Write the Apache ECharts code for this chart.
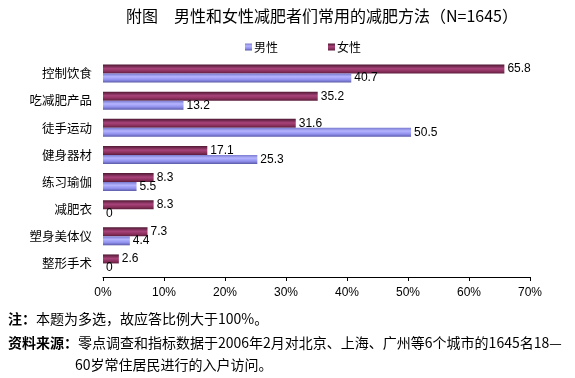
<!DOCTYPE html>
<html>
<head>
<meta charset="utf-8">
<script src="https://cdn.jsdelivr.net/npm/echarts@6/dist/echarts.min.js"></script>
<style>
html,body{margin:0;padding:0;background:#fff;}
#c{width:575px;height:378px;}
</style>
</head>
<body>
<div id="c"></div>
<script>
var categories = ['控制饮食', '吃减肥产品', '徒手运动', '健身器材', '练习瑜伽', '减肥衣', '塑身美体仪', '整形手术'];
var maleValues = [40.7, 13.2, 50.5, 25.3, 5.5, 0, 4.4, 0];
var femaleValues = [65.8, 35.2, 31.6, 17.1, 8.3, 8.3, 7.3, 2.6];
var xTicks = [0, 10, 20, 30, 40, 50, 60, 70];
var seriesNames = ['男性', '女性'];

var FONT = '"Liberation Sans", "Noto Sans CJK SC", sans-serif';
var CJK = '"Noto Sans CJK SC", "Liberation Sans", sans-serif';

function grad(stops) {
  return new echarts.graphic.LinearGradient(0, 0, 0, 1, stops.map(function (s) { return { offset: s[0], color: s[1] }; }));
}
var maleColor = grad([[0, '#7a7ad0'], [0.35, '#b4b4ff'], [0.7, '#9090ee'], [1, '#5a5aa8']]);
var femaleColor = grad([[0, '#4e1832'], [0.45, '#a8437a'], [0.75, '#8a2f5c'], [1, '#5c1d3c']]);

var chart = echarts.init(document.getElementById('c'), null, { renderer: 'canvas' });
var labelCfg = { show: true, position: 'right', distance: 3, color: '#000', fontSize: 12, fontFamily: FONT };

chart.setOption({
  animation: false,
  backgroundColor: '#fff',
  title: {
    text: '附图　男性和女性减肥者们常用的减肥方法（N=1645）',
    left: 317, textAlign: 'center', top: 3,
    textStyle: { fontSize: 16, fontWeight: 'normal', color: '#000', fontFamily: CJK }
  },
  legend: {
    data: seriesNames,
    left: 240, top: 36,
    itemWidth: 7, itemHeight: 7, itemGap: 50,
    icon: 'rect',
    textStyle: { fontSize: 12, color: '#000', fontFamily: CJK, padding: [0, 0, 0, -3] }
  },
  grid: { left: 103, right: 45, top: 60, height: 217, containLabel: false },
  xAxis: {
    type: 'value', min: 0, max: 70, interval: 10,
    axisLine: { show: true, lineStyle: { color: '#000', width: 1 } },
    axisTick: { show: true, length: 4, lineStyle: { color: '#000' } },
    splitLine: { show: false },
    axisLabel: { formatter: function (v) { return v + '%'; }, color: '#000', fontSize: 12, fontFamily: FONT, margin: 10 }
  },
  yAxis: {
    type: 'category', data: categories, inverse: true,
    axisLine: { show: false }, axisTick: { show: false },
    axisLabel: { color: '#000', fontSize: 12.5, fontFamily: CJK, margin: 11 }
  },
  series: [
    { name: seriesNames[1], type: 'bar', data: femaleValues, barWidth: 9, barGap: '0%',
      itemStyle: { color: femaleColor }, label: labelCfg },
    { name: seriesNames[0], type: 'bar', data: maleValues, barWidth: 9, barGap: '0%',
      itemStyle: { color: maleColor }, label: labelCfg }
  ],
  graphic: [
    { type: 'text', left: 8, top: 312, style: { text: '{b|注：}本题为多选，故应答比例大于100%。', font: '14px "Noto Sans CJK SC"', fill: '#000',
      rich: { b: { fontWeight: 'bold', fontSize: 14, fontFamily: 'Noto Sans CJK SC' } } } },
    { type: 'text', left: 8, top: 336, style: { text: '{b|资料来源：}零点调查和指标数据于2006年2月对北京、上海、广州等6个城市的1645名18—', font: '14px "Noto Sans CJK SC"', fill: '#000',
      rich: { b: { fontWeight: 'bold', fontSize: 14, fontFamily: 'Noto Sans CJK SC' } } } },
    { type: 'text', left: 75, top: 358, style: { text: '60岁常住居民进行的入户访问。', font: '14px "Noto Sans CJK SC"', fill: '#000' } }
  ]
});
</script>
</body>
</html>
